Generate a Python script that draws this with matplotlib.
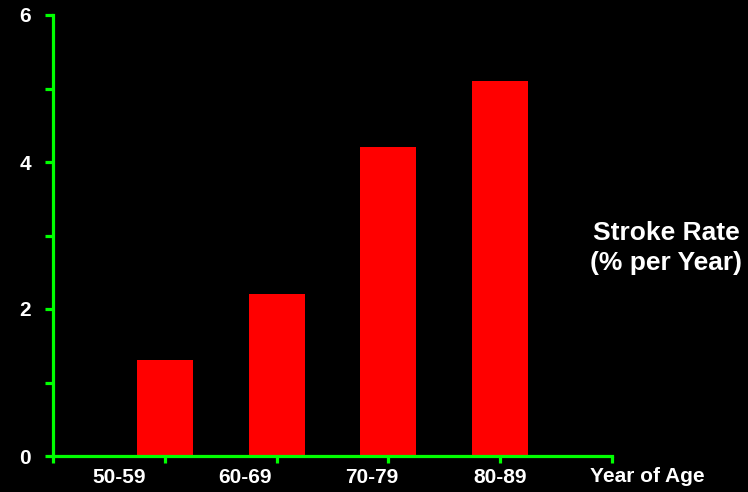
import matplotlib
matplotlib.use("Agg")
import matplotlib.pyplot as plt

# stroke rate by age group
age_groups = ["50-59", "60-69", "70-79", "80-89"]
stroke_rate = [1.3, 2.2, 4.2, 5.1]
bar_pos = [1, 2, 3, 4]
label_pos = [0.59, 1.72, 2.85, 4.0]

green = "#00FF00"
plt.rcParams["font.family"] = ["Liberation Sans", "DejaVu Sans"]
plt.rcParams["font.weight"] = "bold"

fig = plt.figure(figsize=(7.48, 4.92), dpi=100, facecolor="black")
ax = fig.add_axes([53 / 748, 36 / 492, 559 / 748, 441 / 492])
ax.set_facecolor("black")

ax.bar(bar_pos, stroke_rate, width=0.5, color="#FF0000", zorder=1)

ax.set_xlim(0, 5)
ax.set_ylim(0, 6)
for side in ["top", "right"]:
    ax.spines[side].set_visible(False)
for side in ["left", "bottom"]:
    ax.spines[side].set_color(green)
    ax.spines[side].set_linewidth(2.3)
    ax.spines[side].set_zorder(3)

ax.set_yticks([0, 1, 2, 3, 4, 5, 6])
ax.set_yticklabels(["0", "", "2", "", "4", "", "6"])
ax.set_xticks([0, 1, 2, 3, 4, 5])
ax.set_xticklabels([])
ax.tick_params(axis="y", colors=green, length=6, width=2.3, direction="out",
               labelcolor="white", labelsize=15, pad=10)
ax.tick_params(axis="x", colors=green, length=5, width=2.3, direction="out")
for lbl in ax.get_yticklabels():
    lbl.set_fontweight("bold")

for x, name in zip(label_pos, age_groups):
    ax.text(x, -0.16, name, color="white", fontsize=15, fontweight="bold",
            ha="center", va="top", transform=ax.transData, clip_on=False)

fig.text(590 / 748, 1 - 477 / 492, "Year of Age", color="white", fontsize=15,
         fontweight="bold", ha="left", va="center")
fig.text(666 / 748, 1 - 248 / 492, "Stroke Rate\n(% per Year)", color="white",
         fontsize=19, fontweight="bold", ha="center", va="center",
         linespacing=1.3)

fig.savefig("out.png", dpi=100, facecolor="black")
